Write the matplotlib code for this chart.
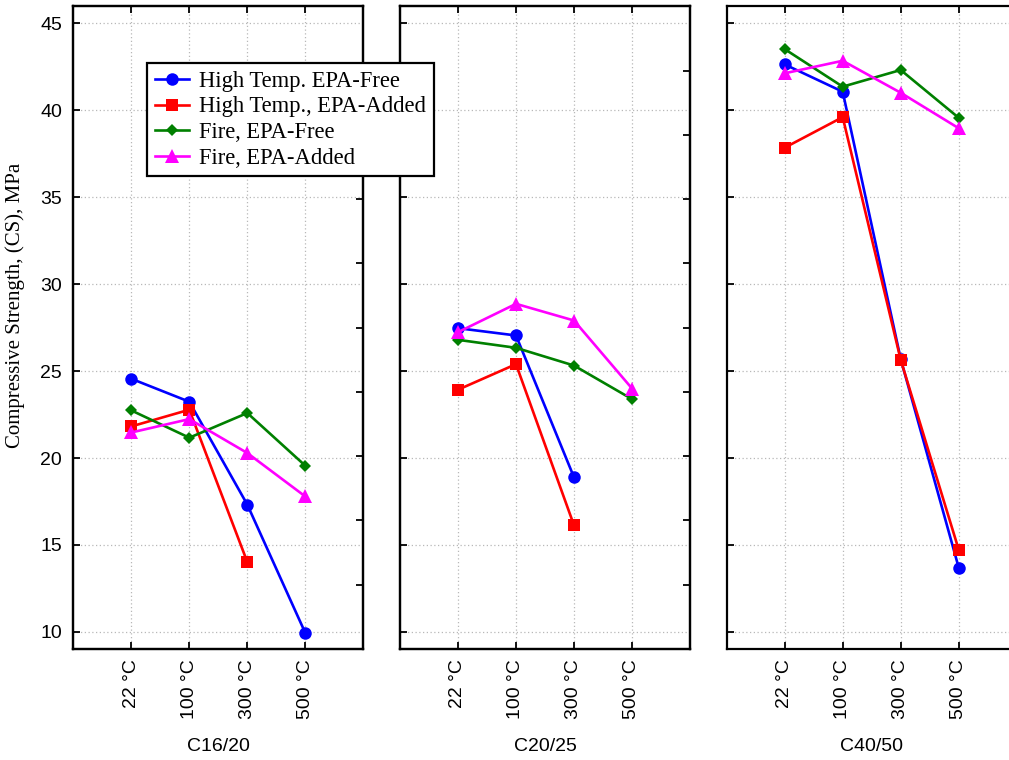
import numpy as np
import matplotlib
matplotlib.use("Agg")
import matplotlib.pyplot as plt

# ---- data ----
temperatures = ["22 °C", "100 °C", "300 °C", "500 °C"]
concrete_classes = ["C16/20", "C20/25", "C40/50"]
series_labels = ["High Temp. EPA-Free", "High Temp., EPA-Added",
                 "Fire, EPA-Free", "Fire, EPA-Added"]

ht_epa_free = [
    [24.56, 23.24, 17.32, 9.94],
    [27.47, 27.05, 18.89, np.nan],
    [42.64, 41.07, 25.70, 13.70],
]
ht_epa_added = [
    [21.82, 22.78, 14.02, np.nan],
    [23.93, 25.40, 16.13, np.nan],
    [37.85, 39.61, 25.65, 14.73],
]
fire_epa_free = [
    [22.74, 21.17, 22.59, 19.56],
    [26.80, 26.34, 25.32, 23.39],
    [43.52, 41.36, 42.32, 39.57],
]
fire_epa_added = [
    [21.47, 22.24, 20.29, 17.79],
    [27.24, 28.87, 27.91, 24.00],
    [42.13, 42.85, 41.01, 38.97],
]

series_data = [ht_epa_free, ht_epa_added, fire_epa_free, fire_epa_added]
colors = ["#0000ff", "#ff0000", "#008000", "#ff00ff"]
markers = ["o", "s", "D", "^"]
msizes = [9, 8.5, 6.5, 9.5]

sans = ["Liberation Sans", "DejaVu Sans"]
narrow = ["Liberation Sans Narrow", "Liberation Sans", "DejaVu Sans"]
serif = ["Liberation Serif", "DejaVu Serif"]

fig = plt.figure(figsize=(10.09, 7.6), dpi=100)
W, H = 1009.0, 760.0
lefts = [73.3, 400.0, 726.7]
pw = 290.0
top_px, bot_px = 6.0, 649.3

x = np.arange(len(temperatures))
handles = []
for gi, grp in enumerate(concrete_classes):
    ax = fig.add_axes([lefts[gi] / W, 1 - bot_px / H, pw / W, (bot_px - top_px) / H])
    for si in range(len(series_data)):
        y = np.array(series_data[si][gi], dtype=float)
        h, = ax.plot(x, y, color=colors[si], marker=markers[si], markersize=msizes[si],
                     linewidth=1.9, markeredgewidth=0, label=series_labels[si],
                     clip_on=False, zorder=3 + si)
        if gi == 0:
            handles.append(h)
    ax.set_xlim(-1, 4)
    ax.set_ylim(9, 46)
    ax.set_xticks(x)
    ax.set_xticklabels(temperatures, rotation=90, family=sans, fontsize=14, va="top")
    ax.set_yticks(np.arange(10, 46, 5))
    ax.grid(True, linestyle=(0, (1, 2)), color="#b8b8b8", linewidth=0.9, zorder=0)
    ax.tick_params(axis="both", direction="in", length=5, width=1.3, color="black",
                   top=True, bottom=True, left=True, right=False)
    ax.tick_params(axis="x", pad=7)
    ax.tick_params(axis="y", pad=8)
    for sp in ax.spines.values():
        sp.set_linewidth(1.6)
        sp.set_color("black")
    if gi == 0:
        ax.set_yticklabels([str(v) for v in range(10, 46, 5)], family=sans, fontsize=14)
        ax.set_ylabel("Compressive Strength, (CS), MPa", family=serif, fontsize=15)
        ax.yaxis.set_label_coords(-0.165, 0.535)
    else:
        ax.set_yticklabels([])
    ax.set_xlabel(grp, family=narrow, fontsize=14, labelpad=14)
    if gi < 2:
        tw = ax.twinx()
        tw.set_ylim(9, 46)
        tw.set_yticks(12.72 + 3.695 * np.arange(9))
        tw.set_yticklabels([])
        tw.tick_params(axis="y", direction="in", length=5, width=1.3, right=True)
        for sp in tw.spines.values():
            sp.set_linewidth(1.6)
    else:
        ax.spines["right"].set_visible(False)

leg = fig.legend(handles, series_labels, loc="upper left",
                 bbox_to_anchor=(147 / W, 1 - 63 / H), borderaxespad=0,
                 prop={"family": serif, "size": 16.3}, frameon=True,
                 fancybox=False, framealpha=1, edgecolor="black",
                 handlelength=1.5, handletextpad=0.45, labelspacing=0.2,
                 borderpad=0.35)
leg.get_frame().set_linewidth(1.6)

fig.savefig("out.png", dpi=100)
